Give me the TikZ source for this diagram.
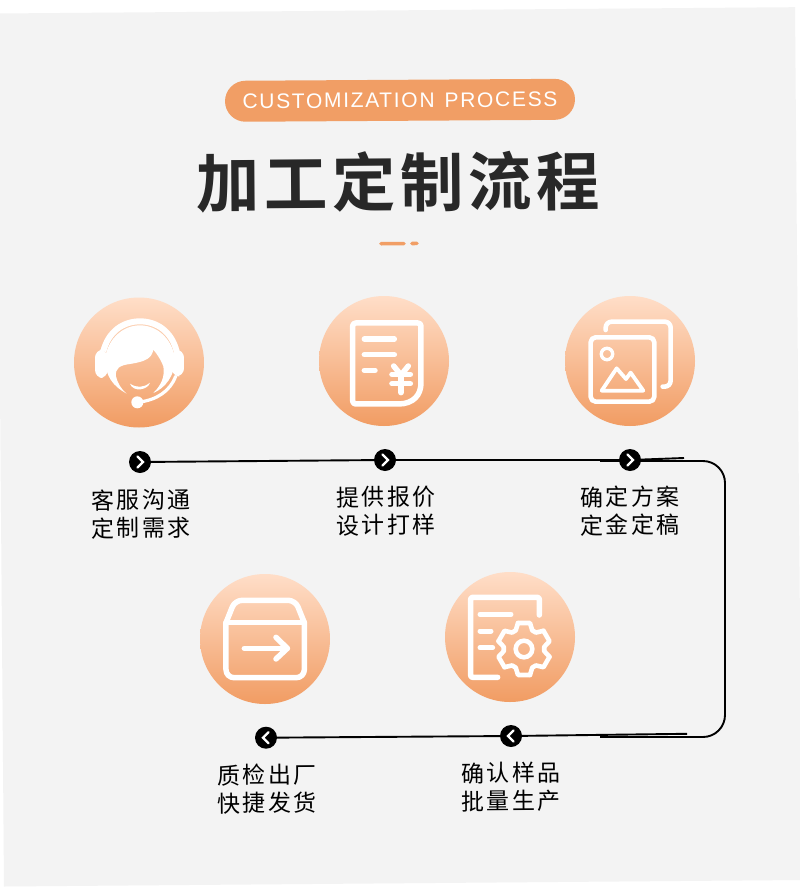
\documentclass[tikz,border=0pt]{standalone}
\usepackage{fontspec}
\setmainfont{Liberation Sans}
\newfontfamily\cjkfont[LetterSpace=11]{Noto Sans CJK SC}
\newfontfamily\cjktitulo[LetterSpace=7]{Noto Sans CJK SC Bold}
\newfontfamily\latinfont[LetterSpace=8]{Liberation Sans}

\tikzset{
  circulo/.style={circle, inner sep=0pt, minimum size=130pt, top color=circsup, bottom color=circinf},
  punto/.style={circle, fill=black, inner sep=0pt, minimum size=22pt},
  flechita/.style={white, line width=2.4pt, line cap=round, line join=miter},
  linea/.style={black, line width=1.9pt},
  etiqueta/.style={align=center, inner sep=0pt, rotate=0.4, text=black, font=\cjkfont\fontsize{23}{28}\selectfont},
  trazo/.style={white, line width=5.5pt, line cap=round, line join=round},
  escala/.style={x=0.3333pt, y=-0.3333pt}
}

\begin{document}
\begin{tikzpicture}[x=1pt, y=-1pt]

\definecolor{fondoG}{RGB}{243,243,243}
\definecolor{naranjaf}{RGB}{241,158,101}
\definecolor{circsup}{RGB}{255,222,200}
\definecolor{circinf}{RGB}{241,156,99}
\definecolor{tituloN}{RGB}{40,40,40}

% Fondo
\fill[white] (0,0) rectangle (800,891);
\useasboundingbox (0,0) rectangle (800,891);
\fill[fondoG] (-3,13.5) -- (795,7.2) -- (802,880) -- (4,886.5) -- cycle;

% === ENCABEZADO ===
\node[fill=naranjaf, rounded corners=20.5pt, minimum width=350pt, minimum height=41pt, inner sep=0pt,
  rotate=0.35, text=white, font=\latinfont\fontsize{21}{24}\selectfont] (cabecera) at (400,100.3) {CUSTOMIZATION\hspace{2.5pt} PROCESS};
\node[rotate=0.4, inner sep=0pt, text=tituloN, font=\cjktitulo\fontsize{63.5}{70}\selectfont] (titulo) at (398,182) {加工定制流程};
\draw[naranjaf, line width=3.6pt, line cap=round] (381,243.7) -- (404,243.6);
\draw[naranjaf, line width=3.6pt, line cap=round] (412,243.5) -- (417,243.4);

% === CIRCULOS ===
\foreach \n/\x/\y in {1/139/362.5, 2/384/361, 3/630/361, 4/265/639, 5/510/637}{
  \node[circulo] (c\n) at (\x,\y) {};
}

% === LINEA DERECHA (va debajo de los puntos) ===
\coordinate (esqA) at (725,461);
\coordinate (esqB) at (725,737);
\coordinate (retA) at (600,461);
\coordinate (retB) at (684,458);
\coordinate (retC) at (600,737);
\coordinate (retD) at (687,733.8);
\draw[linea, rounded corners=22pt] (retA) -- (esqA) -- (esqB) -- (retC);

% === PUNTOS ===
\node[punto] (p1) at (140,462) {};
\node[punto] (p2) at (385,460) {};
\node[punto] (p3) at (630,460) {};
\node[punto] (p4) at (266,737.7) {};
\node[punto] (p5) at (511,736) {};

% === LINEAS ===
\draw[linea] (p1) -- (p2);
\draw[linea] (p2) -- (p3);
\draw[linea] (p3) -- (retB);
\draw[linea] (p5) -- (retD);
\draw[linea] (p5) -- (p4);

% Flechas dentro de los puntos
\foreach \n in {1,2,3}{
  \draw[flechita] ([shift={(-2.5,-5.5)}]p\n.center) -- ([shift={(3,0)}]p\n.center) -- ([shift={(-2.5,5.5)}]p\n.center);
}
\foreach \n in {4,5}{
  \draw[flechita] ([shift={(2.5,-5.5)}]p\n.center) -- ([shift={(-3,0)}]p\n.center) -- ([shift={(2.5,5.5)}]p\n.center);
}

% === TEXTOS ===
\node[etiqueta] (t1) at (141,514) {客服沟通\\定制需求};
\node[etiqueta] (t2) at (386,511) {提供报价\\设计打样};
\node[etiqueta] (t3) at (630,511) {确定方案\\定金定稿};
\node[etiqueta] (t4) at (267,789) {质检出厂\\快捷发货};
\node[etiqueta] (t5) at (511,787) {确认样品\\批量生产};

% === ICONOS ===
% Auriculares
\begin{scope}[shift={(85,308)}, escala]
  \fill[white, rounded corners=8pt] (30,125) rectangle (68,210);
  \fill[white, rounded corners=8pt] (260,125) rectangle (297,205);
  \draw[white, line width=6pt] (55,130) .. controls (70,70) and (115,40) .. (165,40) .. controls (215,40) and (260,70) .. (275,130);
  \fill[white] (125,257) .. controls (85,235) and (60,205) .. (60,150)
    .. controls (70,90) and (115,52) .. (165,52) .. controls (215,52) and (260,90) .. (270,150)
    .. controls (270,205) and (240,240) .. (205,255) .. controls (230,230) and (240,205) .. (235,175)
    .. controls (230,160) and (218,140) .. (205,125) .. controls (200,150) and (185,160) .. (135,168)
    .. controls (105,172) and (90,180) .. (93,205) .. controls (97,225) and (110,245) .. (125,257) -- cycle;
  \fill[white] (135,227) .. controls (155,240) and (175,240) .. (195,224) .. controls (190,245) and (145,255) .. (135,227) -- cycle;
  \draw[white, line width=3.2pt, line cap=round] (272,205) .. controls (255,250) and (215,275) .. (165,282);
  \fill[white] (157,283) circle (6pt);
\end{scope}

% Factura
\begin{scope}[shift={(300,280)}, escala]
  \draw[trazo, rounded corners=3pt] (295,372) -- (158,372) -- (158,129) -- (363,129) -- (363,300)
    .. controls (363,345) and (340,372) .. (295,372);
  \draw[trazo] (193,177) -- (283,177);
  \draw[trazo] (193,224) -- (283,224);
  \draw[trazo] (193,271) -- (225,271);
  \draw[trazo] (281,258) -- (303,285) -- (325,258);
  \draw[trazo] (276,283) -- (331,283);
  \draw[trazo] (276,311) -- (331,311);
  \draw[trazo] (303,285) -- (303,338);
\end{scope}

% Imagenes
\begin{scope}[shift={(540,280)}, escala]
  \draw[trazo, line width=4.6pt, rounded corners=5pt] (152,172) rectangle (343,365);
  \draw[trazo, line width=4.6pt, rounded corners=6pt] (197,150) -- (197,125) -- (392,125) -- (392,320) -- (368,320);
  \draw[trazo, line width=3.4pt] (201,222) circle (5.7pt);
  \draw[trazo, line width=3.8pt] (185,332) -- (230,265) -- (258,297) -- (272,278) -- (310,332) -- cycle;
\end{scope}

% Caja
\begin{scope}[shift={(180,560)}, escala]
  \draw[trazo, rounded corners=8pt] (138,188) -- (138,353) -- (373,353) -- (373,188);
  \draw[trazo] (138,188) -- (373,188);
  \draw[trazo, rounded corners=7pt] (138,188) -- (165,121) -- (346,121) -- (373,188);
  \draw[trazo] (193,265) -- (322,265);
  \draw[trazo] (288,232) -- (322,265) -- (288,297);
\end{scope}

% Documento con engranaje
\begin{scope}[shift={(430,560)}, escala]
  \draw[trazo, rounded corners=2pt] (203,352) -- (122,352) -- (122,112) -- (328,112) -- (328,165);
  \draw[trazo, line width=5pt] (150,163) -- (243,163);
  \draw[trazo, line width=5pt] (150,213) -- (183,213);
  \draw[trazo, line width=5pt] (150,263) -- (188,263);
  \begin{scope}[shift={(282,267)}]
    \foreach \a in {30,90,...,330}{
      \draw[trazo, line width=4.6pt] (\a-13:80) -- (\a+13:80) -- (\a+24:61) -- (\a+36:61) -- (\a+47:80);
    }
    \draw[trazo, line width=4.6pt] (0,0) circle (8.3pt);
  \end{scope}
\end{scope}

\end{tikzpicture}
\end{document}
